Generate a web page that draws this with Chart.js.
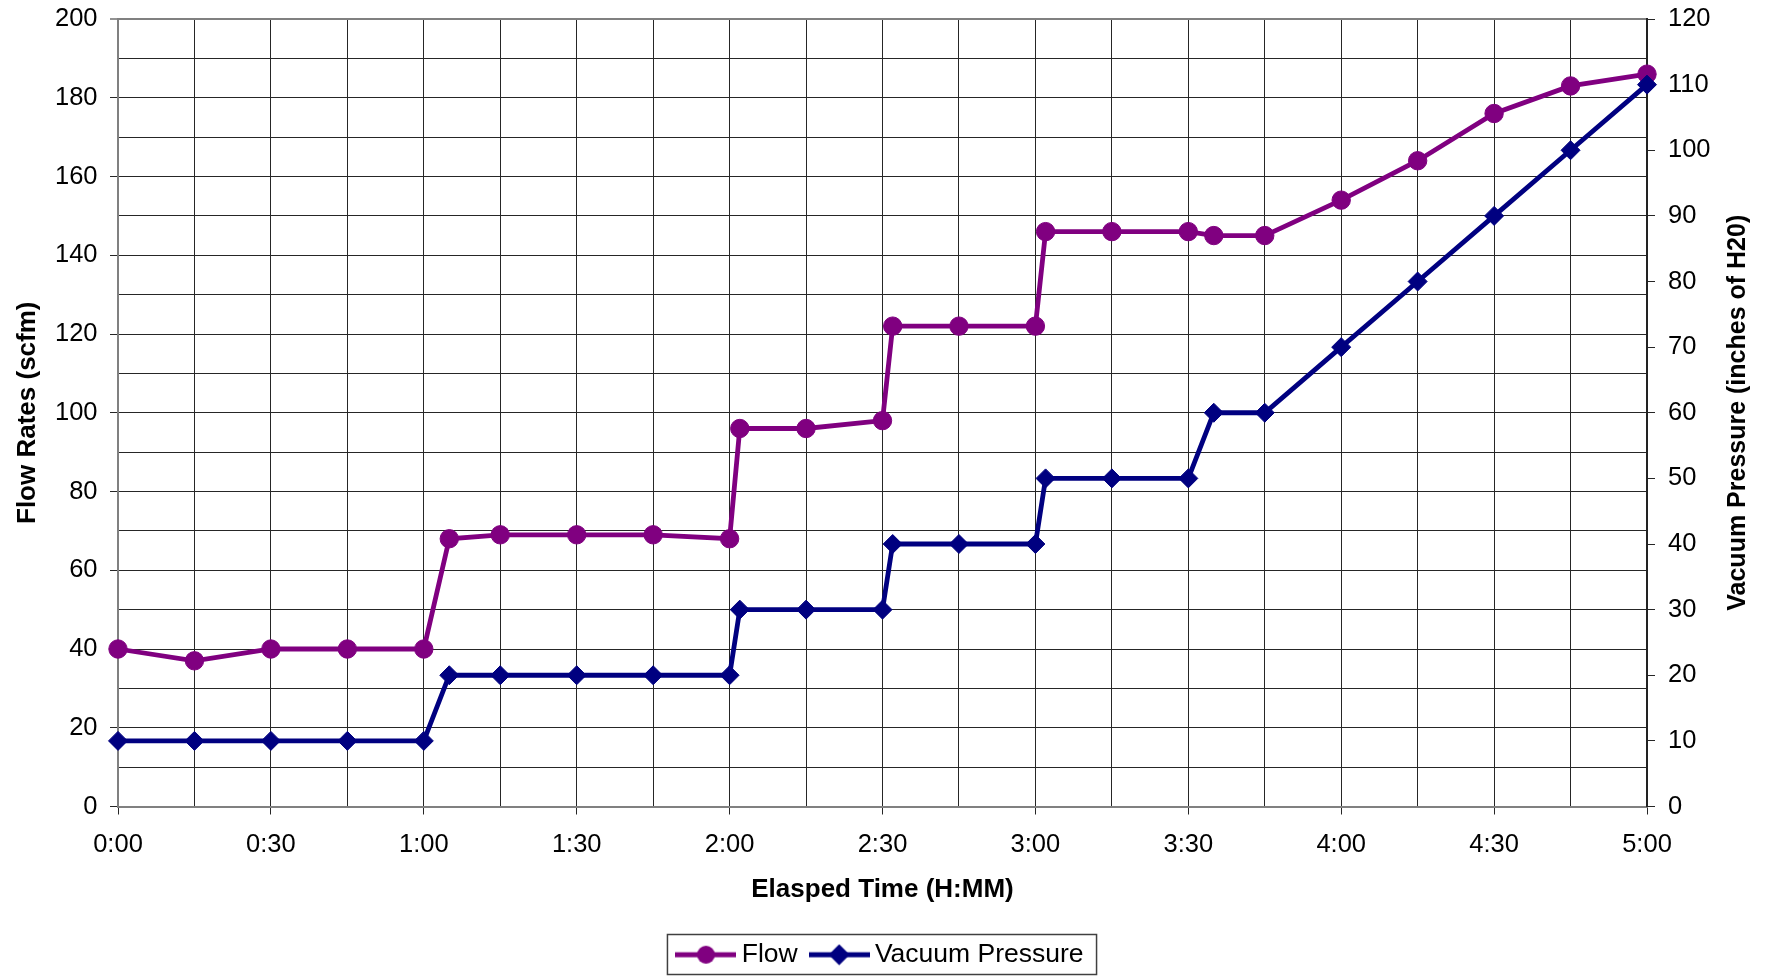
<!DOCTYPE html>
<html>
<head>
<meta charset="utf-8">
<style>
  html, body { margin: 0; padding: 0; background: #ffffff; overflow: hidden; }
  canvas { display: block; }
</style>
<script src="https://cdn.jsdelivr.net/npm/chart.js@4.4.1/dist/chart.umd.min.js"></script>
</head>
<body>
<canvas id="chart" width="1767" height="976"></canvas>
<script>
// ---- data (elapsed time in minutes) ----
const timeMinutes   = [0, 15, 30, 45, 60, 65, 75, 90, 105, 120, 122, 135, 150, 152, 165, 180, 182, 195, 210, 215, 225, 240, 255, 270, 285, 300];
const flowValues    = [40, 37, 40, 40, 40, 68, 69, 69, 69, 68, 96, 96, 98, 122, 122, 122, 146, 146, 146, 145, 145, 154, 164, 176, 183, 186];
const vacuumValues  = [10, 10, 10, 10, 10, 20, 20, 20, 20, 20, 30, 30, 30, 40, 40, 40, 50, 50, 50, 60, 60, 70, 80, 90, 100, 110];
const timeTickLabels = ['0:00', '0:30', '1:00', '1:30', '2:00', '2:30', '3:00', '3:30', '4:00', '4:30', '5:00'];
const seriesNames = ['Flow', 'Vacuum Pressure'];
const axisTitles = ['Elasped Time (H:MM)', 'Flow Rates (scfm)', 'Vacuum Pressure (inches of H20)'];

const FAMILY = "'Liberation Sans', Arial, Helvetica, sans-serif";
const FLOW_COLOR = '#800080';
const VAC_COLOR = '#000080';
const GRID = '#262626';

function makeSample(color, shape) {
  const c = document.createElement('canvas');
  c.width = 61; c.height = 22;
  const g = c.getContext('2d');
  g.strokeStyle = color; g.lineWidth = 4.8;
  g.beginPath(); g.moveTo(0, 11); g.lineTo(61, 11); g.stroke();
  g.fillStyle = color;
  g.beginPath();
  if (shape === 'circle') {
    g.arc(30.5, 11, 9, 0, Math.PI * 2);
  } else {
    g.moveTo(20, 11); g.lineTo(30.5, 0.5); g.lineTo(41, 11); g.lineTo(30.5, 21.5); g.closePath();
  }
  g.fill();
  return c;
}
const legendSamples = [makeSample(FLOW_COLOR, 'circle'), makeSample(VAC_COLOR, 'diamond')];

const legendBorder = {
  id: 'legendBorder',
  afterDraw(chart) {
    const hb = chart.legend && chart.legend.legendHitBoxes;
    if (!hb || !hb.length) return;
    const first = hb[0], last = hb[hb.length - 1];
    const x1 = first.left - 16, x2 = last.left + last.width + 13;
    const y1 = first.top - 7, y2 = first.top + 33;
    const ctx = chart.ctx;
    ctx.save();
    ctx.strokeStyle = '#404040';
    ctx.lineWidth = 1.5;
    ctx.strokeRect(x1, y1, x2 - x1, y2 - y1);
    ctx.restore();
  }
};

const rightTitle = {
  id: 'rightTitle',
  afterDraw(chart) {
    const s = chart.scales.y2;
    const ctx = chart.ctx;
    ctx.save();
    ctx.font = "bold 25px " + FAMILY;
    ctx.fillStyle = '#000';
    ctx.textAlign = 'center';
    ctx.textBaseline = 'middle';
    ctx.translate(s.right - 28.5, (chart.chartArea.top + chart.chartArea.bottom) / 2);
    ctx.rotate(-Math.PI / 2);
    ctx.fillText(axisTitles[2], 0, 0);
    ctx.restore();
  }
};

const flowPoints = timeMinutes.map((t, i) => ({ x: t, y: flowValues[i] }));
const vacPoints = timeMinutes.map((t, i) => ({ x: t, y: vacuumValues[i] }));

const tickFont = { family: FAMILY, size: 25.5 };
const titleFont = { family: FAMILY, size: 26, weight: 'bold' };

function noVerticalOverflow(s) {
  s.paddingTop = 0;
  s.paddingBottom = 0;
}

new Chart(document.getElementById('chart'), {
  type: 'line',
  data: {
    datasets: [
      {
        label: seriesNames[0], data: flowPoints, yAxisID: 'y', order: 2,
        borderColor: FLOW_COLOR, backgroundColor: FLOW_COLOR, borderWidth: 4.8,
        pointStyle: 'circle', pointRadius: 9.2, pointBorderWidth: 1,
        pointBackgroundColor: FLOW_COLOR, pointBorderColor: FLOW_COLOR,
        tension: 0, clip: false, fill: false
      },
      {
        label: seriesNames[1], data: vacPoints, yAxisID: 'y2', order: 1,
        borderColor: VAC_COLOR, backgroundColor: VAC_COLOR, borderWidth: 4.8,
        pointStyle: 'rectRot', pointRadius: 9.5, pointBorderWidth: 1,
        pointBackgroundColor: VAC_COLOR, pointBorderColor: VAC_COLOR,
        tension: 0, clip: false, fill: false
      }
    ]
  },
  options: {
    responsive: false,
    animation: false,
    events: [],
    layout: { padding: { top: 19, left: 0, right: 0, bottom: -2 } },
    plugins: {
      tooltip: { enabled: false },
      legend: {
        display: true,
        position: 'bottom',
        labels: {
          usePointStyle: true,
          pointStyleWidth: 45,
          padding: 19,
          color: '#000',
          font: { family: FAMILY, size: 26.5 },
          sort: (a, b) => a.datasetIndex - b.datasetIndex,
          generateLabels(chart) {
            const items = Chart.defaults.plugins.legend.labels.generateLabels(chart);
            items.forEach(it => { it.pointStyle = legendSamples[it.datasetIndex]; });
            return items;
          }
        }
      }
    },
    scales: {
      x: {
        type: 'linear', min: 0, max: 300,
        afterFit(s) { s.height = 116; },
        ticks: {
          stepSize: 15, maxTicksLimit: 100, autoSkip: false, maxRotation: 0, minRotation: 0,
          padding: 15.5, font: tickFont, color: '#000',
          callback: v => (v % 30 === 0 ? timeTickLabels[v / 30] : '')
        },
        grid: {
          color: GRID, lineWidth: 1, tickLength: 8, tickWidth: 1,
          tickColor: c => (c.tick && c.tick.value % 30 === 0 ? GRID : 'rgba(0,0,0,0)')
        },
        border: { color: '#808080', width: 2 },
        title: { display: true, text: axisTitles[0], font: titleFont, color: '#000', padding: { top: 0, bottom: 17.4 } }
      },
      y: {
        position: 'left', min: 0, max: 200,
        afterFit(s) { s.width = 118; noVerticalOverflow(s); },
        ticks: {
          stepSize: 10, maxTicksLimit: 100, autoSkip: false, padding: 12.5, font: tickFont, color: '#000',
          callback: v => (v % 20 === 0 ? String(v) : '')
        },
        grid: {
          color: c => (c.tick && c.tick.value === 200 ? '#808080' : GRID),
          lineWidth: c => (c.tick && c.tick.value === 200 ? 2 : 1),
          tickLength: 8, tickWidth: 1,
          tickColor: c => (c.tick && c.tick.value % 20 === 0 ? GRID : 'rgba(0,0,0,0)')
        },
        border: { color: '#808080', width: 2 },
        title: { display: true, text: axisTitles[1], font: titleFont, color: '#000', padding: { top: 12.4, bottom: 0 } }
      },
      y2: {
        position: 'right', min: 0, max: 120,
        afterFit(s) { s.width = 120; noVerticalOverflow(s); },
        ticks: { stepSize: 10, maxTicksLimit: 100, autoSkip: false, padding: 13, font: tickFont, color: '#000' },
        grid: { drawOnChartArea: false, color: GRID, tickLength: 8, tickWidth: 1 },
        border: { color: '#222222', width: 2 },
        title: { display: false }
      }
    }
  },
  plugins: [legendBorder, rightTitle]
});
</script>
</body>
</html>
